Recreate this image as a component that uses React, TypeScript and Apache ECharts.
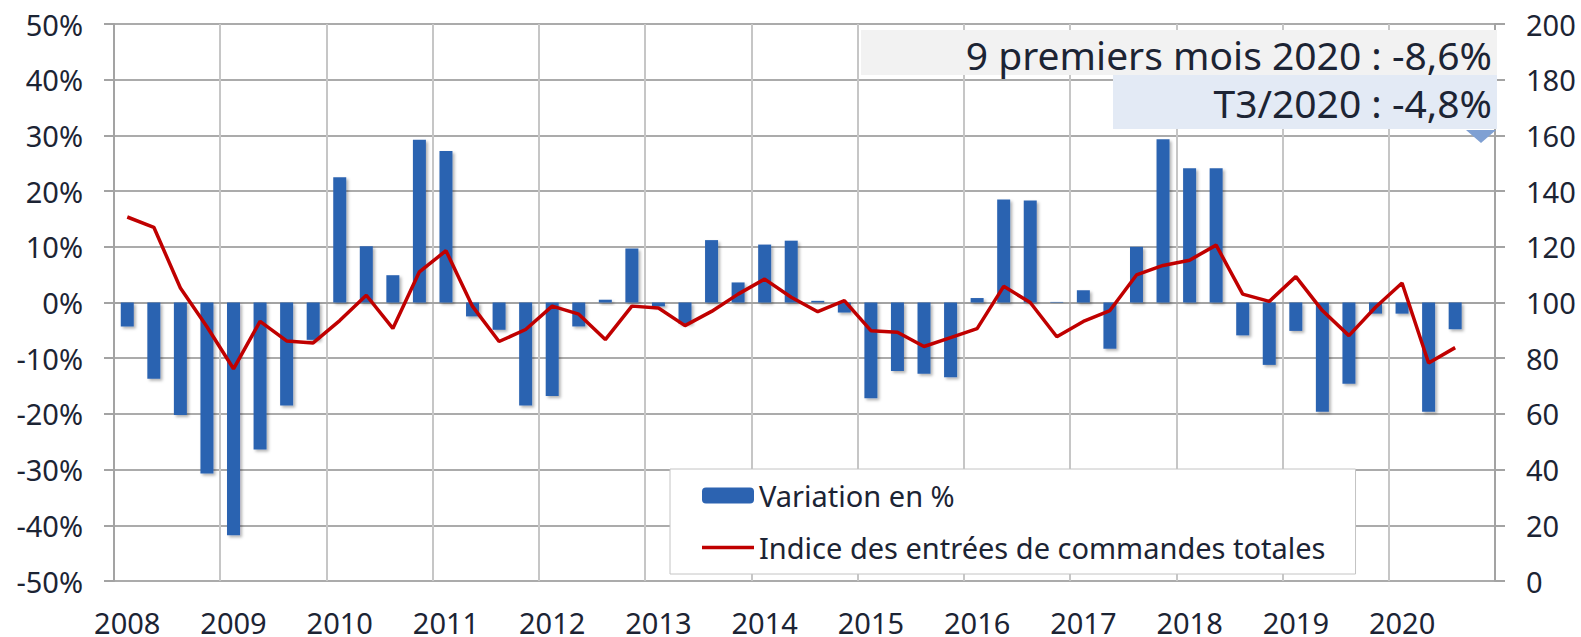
import React, { useEffect, useRef } from "react";
import * as echarts from "echarts";

const years = ["2008", "2009", "2010", "2011", "2012", "2013", "2014", "2015", "2016", "2017", "2018", "2019", "2020"];
const quarters = ["T1", "T2", "T3", "T4"];

const variation = [
  -4.3, -13.7, -20.2, -30.7,
  -41.8, -26.4, -18.5, -6.7,
  22.5, 10.1, 4.9, 29.2,
  27.2, -2.5, -4.9, -18.5,
  -16.8, -4.3, 0.5, 9.7,
  -0.7, -3.8, 11.2, 3.6,
  10.4, 11.1, 0.3, -1.8,
  -17.2, -12.3, -12.8, -13.4,
  0.8, 18.5, 18.3, 0.1,
  2.2, -8.3, 10.0, 29.3,
  24.1, 24.1, -5.9, -11.2,
  -5.1, -19.6, -14.6, -2.0,
  -2.0, -19.6, -4.8,
];

const indice = [
  130.7, 127.0, 105.2, 91.3,
  76.2, 93.2, 86.2, 85.5,
  93.5, 102.6, 90.7, 111.0,
  118.6, 98.6, 86.0, 90.3,
  98.7, 95.8, 86.7, 98.7,
  98.0, 91.7, 96.8, 103.0,
  108.4, 101.9, 96.7, 100.7,
  89.9, 89.3, 84.2, 87.4,
  90.6, 105.8, 100.0, 87.7,
  93.2, 97.1, 109.9, 113.3,
  115.2, 120.6, 103.0, 100.4,
  109.3, 97.1, 88.1, 98.3,
  107.0, 78.3, 83.8,
];

const seriesNames = ["Variation en %", "Indice des entrées de commandes totales"];
const annotation1 = "9 premiers mois 2020 : -8,6%";
const annotation2 = "T3/2020 : -4,8%";

const categories: string[] = [];
years.forEach((y) => quarters.forEach((q) => categories.push(y + " " + q)));

const FONT = "'Noto Sans', 'Open Sans', sans-serif";
const TEXT = "#1c2434";

export default function App() {
  const ref = useRef<HTMLDivElement>(null);

  useEffect(() => {
    document.body.style.margin = "0";
    document.body.style.overflow = "hidden";
    const chart = echarts.init(ref.current!, null, { renderer: "svg" });
    chart.setOption({
      animation: false,
      backgroundColor: "#ffffff",
      textStyle: { fontFamily: FONT, color: TEXT },
      grid: { left: 114, right: 86, top: 24, bottom: 53, containLabel: false },
      legend: {
        orient: "vertical",
        left: 670,
        top: 469,
        data: [
          { name: seriesNames[0] },
          { name: seriesNames[1], icon: "path://M0 0H52V3.5H0Z" },
        ],
        padding: [12, 30, 12, 32],
        itemGap: 23,
        itemWidth: 52,
        itemHeight: 16,
        backgroundColor: "#ffffff",
        borderColor: "#c4c4c4",
        borderWidth: 1,
        borderRadius: 0,
        textStyle: { fontSize: 29, color: TEXT, fontFamily: FONT },
      },
      xAxis: {
        type: "category",
        data: categories,
        boundaryGap: true,
        axisLine: { show: true, lineStyle: { color: "#a3a3a3", width: 2 } },
        axisTick: { show: false },
        axisLabel: {
          interval: 3,
          formatter: (v: string) => v.slice(0, 4),
          fontSize: 29,
          color: TEXT,
          margin: 27,
          fontFamily: FONT,
        },
        splitLine: { show: true, interval: 3, lineStyle: { color: "#c6c6c6", width: 2 } },
      },
      yAxis: [
        {
          type: "value",
          min: -50,
          max: 50,
          interval: 10,
          axisLine: { show: true, lineStyle: { color: "#a3a3a3", width: 2 } },
          axisTick: { show: true, length: 10, lineStyle: { color: "#a3a3a3", width: 2 } },
          axisLabel: { formatter: "{value}%", fontSize: 29, color: TEXT, margin: 31, fontFamily: FONT },
          splitLine: { show: true, lineStyle: { color: "#ababab", width: 2 } },
        },
        {
          type: "value",
          position: "right",
          min: 0,
          max: 200,
          interval: 20,
          axisLine: { show: true, lineStyle: { color: "#a3a3a3", width: 2 } },
          axisTick: { show: true, length: 10, lineStyle: { color: "#a3a3a3", width: 2 } },
          axisLabel: { fontSize: 29, color: TEXT, margin: 31, fontFamily: FONT },
          splitLine: { show: false },
        },
      ],
      series: [
        {
          name: seriesNames[0],
          type: "bar",
          yAxisIndex: 0,
          data: variation,
          barWidth: 13,
          itemStyle: {
            color: "#2c63b1",
            shadowColor: "rgba(0,0,0,0.3)",
            shadowBlur: 3,
            shadowOffsetX: 2,
            shadowOffsetY: 2,
          },
        },
        {
          name: seriesNames[1],
          type: "line",
          yAxisIndex: 1,
          data: indice,
          symbol: "none",
          showSymbol: false,
          z: 5,
          lineStyle: { color: "#c00000", width: 3.5 },
          itemStyle: { color: "#c00000" },
        },
      ],
      graphic: [
        {
          type: "rect",
          shape: { x: 861, y: 30, width: 636, height: 45 },
          style: { fill: "#f2f2f2" },
          z: 10,
        },
        {
          type: "rect",
          shape: { x: 1113, y: 75, width: 384, height: 54 },
          style: { fill: "#e3eaf5" },
          z: 10,
        },
        {
          type: "polygon",
          shape: { points: [[1466, 130], [1496, 130], [1481, 143]] },
          style: { fill: "#7fa0d3" },
          z: 10,
        },
        {
          type: "text",
          x: 1492,
          y: 54,
          z: 11,
          style: {
            text: annotation1,
            fill: TEXT,
            font: "39px " + FONT,
            textAlign: "right",
            textVerticalAlign: "middle",
            verticalAlign: "middle",
          },
        },
        {
          type: "text",
          x: 1492,
          y: 102,
          z: 11,
          style: {
            text: annotation2,
            fill: TEXT,
            font: "39px " + FONT,
            textAlign: "right",
            textVerticalAlign: "middle",
            verticalAlign: "middle",
          },
        },
      ],
    });
    return () => chart.dispose();
  }, []);

  return <div ref={ref} style={{ width: 1581, height: 637 }} />;
}
